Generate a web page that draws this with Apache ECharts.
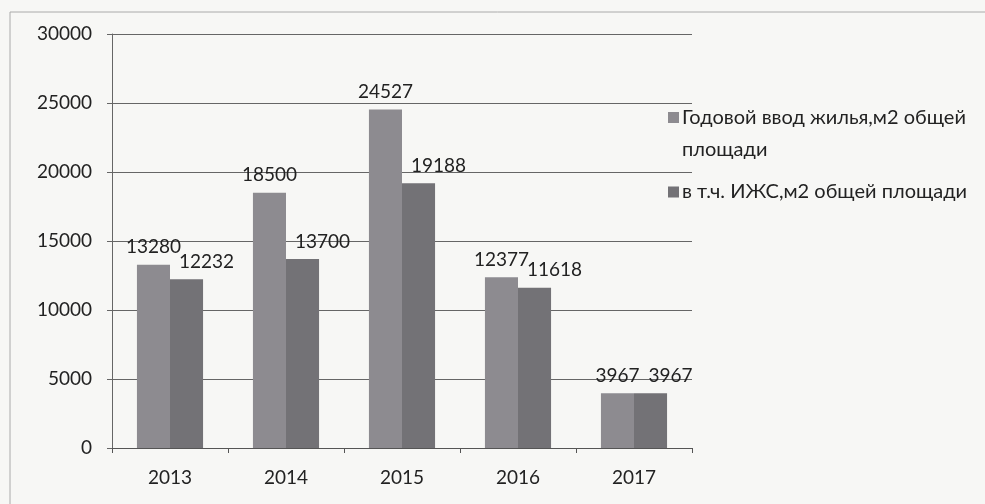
<!DOCTYPE html>
<html>
<head>
<meta charset="utf-8">
<script src="https://cdn.jsdelivr.net/npm/echarts@6/dist/echarts.min.js"></script>
<style>
  html, body { margin: 0; padding: 0; background: #f7f7f5; }
  #chart { width: 985px; height: 504px; }
</style>
</head>
<body>
<div id="chart"></div>
<script>
    var years = ['2013', '2014', '2015', '2016', '2017'];
    var totalArea = [13280, 18500, 24527, 12377, 3967];
    var izhsArea = [12232, 13700, 19188, 11618, 3967];
    var seriesNames = ['Годовой ввод жилья,м2 общей площади', 'в т.ч. ИЖС,м2 общей площади'];

    var font = 'Lato, "Noto Sans", sans-serif';
    var myChart = echarts.init(document.getElementById('chart'));

    // tall icons (10x40 box): square on top for the two-line entry, centred for the one-line entry
    var topSquare = 'path://M0,0L10,0L10,10L0,10Z M0,40L0.01,40L0.01,40.01Z';
    var midSquare = 'path://M0,0L0.01,0L0.01,0.01Z M0,15L10,15L10,25L0,25Z M0,40L0.01,40L0.01,40.01Z';

    var option = {
        backgroundColor: '#f7f7f5',
        textStyle: { fontFamily: font },
        graphic: [
            { type: 'line', shape: { x1: 10, y1: 12, x2: 985, y2: 12 }, style: { stroke: '#aaa', lineWidth: 1 } },
            { type: 'line', shape: { x1: 10, y1: 12, x2: 10, y2: 504 }, style: { stroke: '#aaa', lineWidth: 1 } }
        ],
        legend: {
            orient: 'vertical',
            left: 663,
            top: 97,
            itemWidth: 11,
            itemHeight: 44,
            itemGap: 4,
            data: [
                { name: seriesNames[0], icon: topSquare },
                { name: seriesNames[1], icon: midSquare }
            ],
            formatter: function (name) {
                return name === seriesNames[0] ? 'Годовой ввод жилья,м2 общей\nплощади' : name;
            },
            textStyle: { fontSize: 20, color: '#222', fontFamily: font, lineHeight: 32, padding: [0, 0, 0, -2] }
        },
        grid: { left: 112, right: 293, top: 34, bottom: 56 },
        xAxis: {
            type: 'category',
            data: years,
            axisLine: { lineStyle: { color: '#555' } },
            axisTick: { show: true, length: 5, lineStyle: { color: '#555' } },
            axisLabel: { fontSize: 19, color: '#222', margin: 20 }
        },
        yAxis: {
            type: 'value',
            min: 0,
            max: 30000,
            interval: 5000,
            axisLine: { show: true, lineStyle: { color: '#666' } },
            axisTick: { show: true, length: 5, lineStyle: { color: '#666' } },
            axisLabel: {
                fontSize: 19, color: '#222', margin: 20,
                formatter: function (v) { return String(v); }
            },
            splitLine: { lineStyle: { color: '#666', width: 1 } }
        },
        series: [
            {
                name: seriesNames[0],
                type: 'bar',
                data: totalArea,
                barGap: '0%',
                barCategoryGap: '43%',
                itemStyle: { color: '#8d8b90' },
                label: { show: true, position: 'top', distance: 8, fontSize: 19, color: '#222' }
            },
            {
                name: seriesNames[1],
                type: 'bar',
                data: izhsArea,
                itemStyle: { color: '#737276' },
                label: { show: true, position: 'top', distance: 8, offset: [20, 0], fontSize: 19, color: '#222' }
            }
        ]
    };

    myChart.setOption(option);
</script>
</body>
</html>
